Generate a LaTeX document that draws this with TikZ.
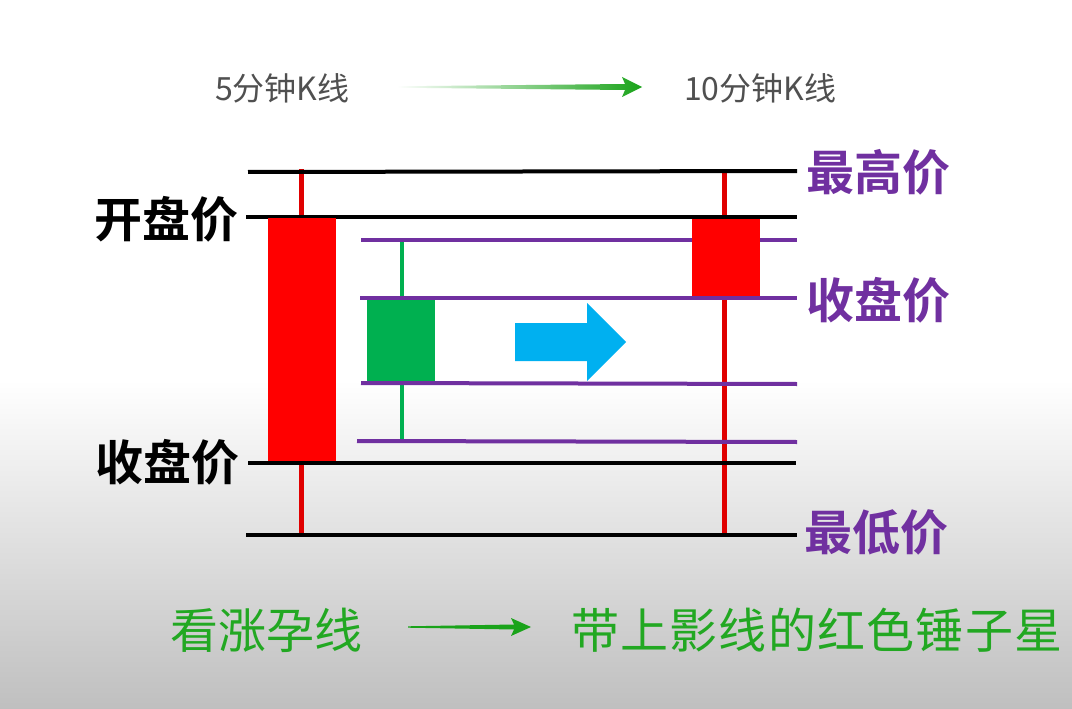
\documentclass[tikz,border=0pt]{standalone}
\usepackage{fontspec}
\setmainfont{Noto Sans CJK SC}
\newfontfamily\cjk{Noto Sans CJK SC}
\newfontfamily\cjkb{Noto Sans CJK SC Bold}
\newfontfamily\cjkspaced[LetterSpace=2.6]{Noto Sans CJK SC}
\usetikzlibrary{calc}

\definecolor{okpurple}{HTML}{7030A0}
\definecolor{okgreen}{HTML}{00B050}
\definecolor{okblue}{HTML}{00B0F0}
\definecolor{candlered}{HTML}{FF0000}
\definecolor{wickred}{HTML}{E00000}
\definecolor{labelgreen}{HTML}{22A822}
\definecolor{arrowgreen}{HTML}{1AA31A}
\definecolor{captiongray}{HTML}{505050}

\tikzset{
  blackline/.style={line width=4pt,black},
  purpleline/.style={line width=4pt,okpurple},
  redwick/.style={line width=5pt,wickred},
  greenwick/.style={line width=4pt,okgreen},
  leftlabel/.style={inner sep=0pt,font=\cjkb\fontsize{48}{50}\selectfont,text=black},
  rightlabel/.style={inner sep=0pt,font=\cjkb\fontsize{48}{50}\selectfont,text=okpurple},
  caption/.style={inner sep=0pt,font=\cjk\fontsize{32}{34}\selectfont,text=captiongray},
  verdict/.style={inner sep=0pt,font=\cjk\fontsize{48}{50}\selectfont,text=labelgreen},
}

\begin{document}
\begin{tikzpicture}[x=1pt,y=-1pt]
  \useasboundingbox (0,0) rectangle (1072,709);
  % background: white above, grey gradient below
  \fill[white] (0,0) rectangle (1072,381);
  \shade[top color=white,bottom color=black!25] (0,380) rectangle (1072,709);

  % captions
  \node[caption,anchor=base west] (five) at (215,101) {5分钟K线};
  \node[caption,anchor=base west] (ten) at (684,101) {10分钟K线};
  \coordinate (ta1) at (397,87);
  \coordinate (ta2) at (642,87);
  \shade[left color=white,middle color=arrowgreen!95!white,right color=arrowgreen]
    ($(ta1)+(0,-0.7)$) -- ($(ta2)+(-17,-3)$) -- ($(ta2)+(-20,-10)$) -- (ta2)
    -- ($(ta2)+(-20,10)$) -- ($(ta2)+(-17,3)$) -- ($(ta1)+(0,0.7)$) -- cycle;

  % wicks
  \draw[redwick] (301,169) -- (301,533);
  \draw[redwick] (724,172) -- (724,533);
  \draw[greenwick] (402,240) -- (402,440);

  % price levels
  \draw[blackline] (248,172) -- (797,171);
  \draw[blackline] (246,217) -- (797,217);
  \draw[blackline] (248,463) -- (796,463);
  \draw[blackline] (246,535) -- (797,535);
  \draw[purpleline] (361,240) -- (797,240);
  \draw[purpleline] (360,298) -- (797,298);
  \draw[purpleline] (361,383) -- (797,384);
  \draw[purpleline] (357,441) -- (797,442);

  % candle bodies
  \fill[candlered] (268,218) rectangle (336,461);
  \fill[okgreen] (367,300) rectangle (435,381);
  \fill[candlered] (692,219) rectangle (760,296);

  % merge arrow
  \fill[okblue] (515,323) -- (587,323) -- (587,303) -- (626,342)
    -- (587,381) -- (587,361) -- (515,361) -- cycle;

  % price labels
  \node[leftlabel,anchor=base east] (open) at (239,237) {开盘价};
  \node[leftlabel,anchor=base east] (closeL) at (240,480) {收盘价};
  \node[rightlabel,anchor=base west] (high) at (806,190) {最高价};
  \node[rightlabel,anchor=base west] (closeR) at (806,318) {收盘价};
  \node[rightlabel,anchor=base west] (low) at (804,550) {最低价};

  % verdict line
  \node[verdict,anchor=base west] (bull) at (170,648) {看涨孕线};
  \node[verdict,font=\cjkspaced\fontsize{48}{50}\selectfont,anchor=base west] (hammer) at (571,648) {带上影线的红色锤子星};
  \coordinate (ba1) at (408,627);
  \coordinate (ba2) at (531,627);
  \fill[arrowgreen] ($(ba1)+(0,-0.7)$) -- ($(ba2)+(-17,-2.5)$) -- ($(ba2)+(-20,-9)$) -- (ba2)
    -- ($(ba2)+(-20,9)$) -- ($(ba2)+(-17,2.5)$) -- ($(ba1)+(0,0.7)$) -- cycle;
\end{tikzpicture}
\end{document}
